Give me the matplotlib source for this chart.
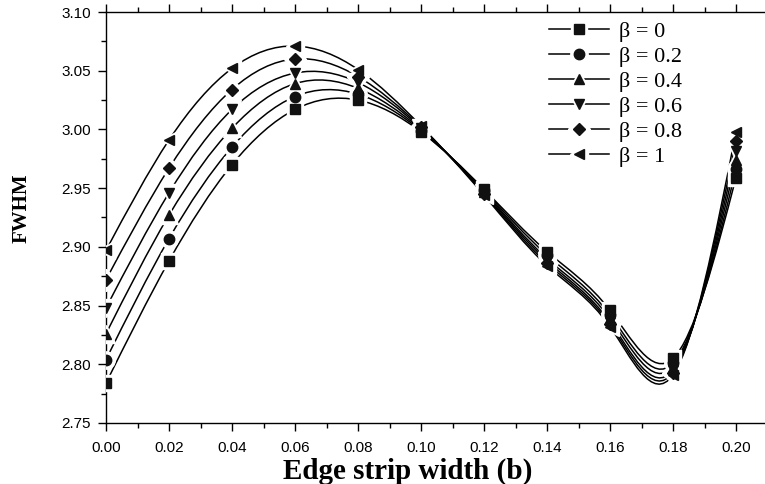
import numpy as np
import matplotlib
matplotlib.use("Agg")
import matplotlib.pyplot as plt
from matplotlib.path import Path
from matplotlib.patches import PathPatch
from matplotlib.lines import Line2D
from matplotlib.ticker import MultipleLocator, FormatStrFormatter

# ---- data ----
edge_width = [0.00, 0.02, 0.04, 0.06, 0.08, 0.10, 0.12, 0.14, 0.16, 0.18, 0.20]
x_tick_labels = ["0.00", "0.02", "0.04", "0.06", "0.08", "0.10", "0.12",
                 "0.14", "0.16", "0.18", "0.20"]
beta_labels = ["β = 0", "β = 0.2", "β = 0.4", "β = 0.6", "β = 0.8", "β = 1"]
fwhm_b0 = [2.784, 2.888, 2.970, 3.017, 3.025, 2.998, 2.949, 2.896, 2.846, 2.805, 2.959]
fwhm_b02 = [2.804, 2.907, 2.985, 3.028, 3.030, 2.999, 2.948, 2.893, 2.842, 2.801, 2.966]
fwhm_b04 = [2.826, 2.927, 3.001, 3.039, 3.035, 3.000, 2.947, 2.890, 2.839, 2.798, 2.974]
fwhm_b06 = [2.848, 2.946, 3.017, 3.048, 3.040, 3.001, 2.946, 2.888, 2.836, 2.795, 2.982]
fwhm_b08 = [2.872, 2.967, 3.034, 3.060, 3.045, 3.002, 2.945, 2.886, 2.834, 2.793, 2.990]
fwhm_b1 = [2.897, 2.991, 3.052, 3.071, 3.051, 3.003, 2.944, 2.884, 2.832, 2.791, 2.998]
series = [fwhm_b0, fwhm_b02, fwhm_b04, fwhm_b06, fwhm_b08, fwhm_b1]
markers = ["s", "o", "^", "v", "D", "<"]
msizes = [6.5, 7.5, 7.5, 7.5, 6.5, 7.5]


def spline_path(x, y):
    """Natural cubic spline expressed as Bezier path segments."""
    x = np.asarray(x, float)
    y = np.asarray(y, float)
    n = len(x)
    h = np.diff(x)
    A = np.zeros((n, n))
    r = np.zeros(n)
    A[0, 0] = A[-1, -1] = 1.0
    for i in range(1, n - 1):
        A[i, i - 1] = h[i - 1]
        A[i, i] = 2 * (h[i - 1] + h[i])
        A[i, i + 1] = h[i]
        r[i] = 6 * ((y[i + 1] - y[i]) / h[i] - (y[i] - y[i - 1]) / h[i - 1])
    M = np.linalg.solve(A, r)
    m = np.zeros(n)
    for i in range(n - 1):
        m[i] = (y[i + 1] - y[i]) / h[i] - h[i] * (2 * M[i] + M[i + 1]) / 6
    m[-1] = (y[-1] - y[-2]) / h[-1] + h[-1] * (M[-2] + 2 * M[-1]) / 6
    verts = [(x[0], y[0])]
    codes = [Path.MOVETO]
    for i in range(n - 1):
        d = h[i] / 3
        verts += [(x[i] + d, y[i] + d * m[i]),
                  (x[i + 1] - d, y[i + 1] - d * m[i + 1]),
                  (x[i + 1], y[i + 1])]
        codes += [Path.CURVE4] * 3
    return Path(verts, codes)


fig = plt.figure(figsize=(7.65, 4.84), dpi=100)
ax = fig.add_axes([106 / 765, 61 / 484, (767.5 - 106) / 765, 411 / 484])

handles = []
for ys, mk, ms, lab in zip(series, markers, msizes, beta_labels):
    ax.add_patch(PathPatch(spline_path(edge_width, ys), facecolor="none",
                           edgecolor="black", lw=1.1, zorder=2))
    ax.plot(edge_width, ys, linestyle="none", marker=mk, markersize=ms + 5,
            color="white", markeredgecolor="white", zorder=3)
    ax.plot(edge_width, ys, linestyle="none", marker=mk, markersize=ms,
            color="#111111", markeredgecolor="#111111", zorder=4)
    h_line = Line2D([], [], color="black", lw=1.1)
    h_white = Line2D([], [], linestyle="none", marker=mk, markersize=ms + 5,
                     color="white", markeredgecolor="white")
    h_mark = Line2D([], [], linestyle="none", marker=mk, markersize=ms,
                    color="#111111", markeredgecolor="#111111")
    handles.append((h_line, h_white, h_mark))

ax.set_xlim(0, 0.21)
ax.set_ylim(2.75, 3.10)
ax.xaxis.set_minor_locator(MultipleLocator(0.01))
ax.yaxis.set_major_locator(MultipleLocator(0.05))
ax.yaxis.set_minor_locator(MultipleLocator(0.025))
ax.set_xticks(edge_width)
ax.set_xticklabels(x_tick_labels)
ax.yaxis.set_major_formatter(FormatStrFormatter("%.2f"))

ax.spines["right"].set_visible(False)
for s in ["left", "bottom", "top"]:
    ax.spines[s].set_linewidth(1.0)
ax.tick_params(axis="both", which="major", direction="out", length=6, width=1.0,
               labelsize=11, pad=5)
ax.tick_params(axis="x", which="major", pad=7)
ax.tick_params(axis="both", which="minor", direction="out", length=3.5, width=1.0)
ax.tick_params(axis="x", which="both", top=True)
for t in ax.get_xticklabels() + ax.get_yticklabels():
    t.set_fontfamily("Liberation Sans")

ax.set_xlabel("Edge strip width (b)", fontsize=21, fontweight="bold",
              fontfamily="Liberation Serif")
ax.xaxis.set_label_coords((408 - 106) / 661.5, -(471 - 423) / 411)
ax.xaxis.label.set_va("center")
ax.set_ylabel("FWHM", fontsize=15, fontweight="bold",
              fontfamily="Liberation Serif")
ax.yaxis.set_label_coords((22 - 106) / 661.5, (423 - 208) / 411)
ax.yaxis.label.set_va("center")

ax.legend(handles, beta_labels, loc="upper left",
          bbox_to_anchor=(538 / 765, 1 - 10 / 484), bbox_transform=fig.transFigure,
          frameon=False, borderpad=0, handlelength=2.7, handletextpad=0.45,
          labelspacing=0.2, prop={"family": "Liberation Serif", "size": 16})

fig.savefig("out.png", dpi=100)
